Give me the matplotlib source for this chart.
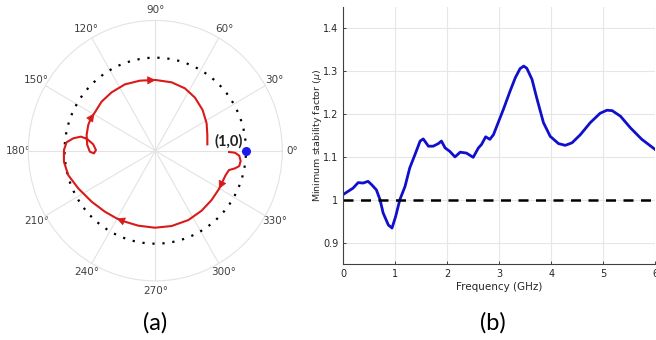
import numpy as np
import matplotlib.pyplot as plt

re_part = [0.813, 0.879, 0.926, 0.941, 0.926, 0.879, 0.813, 0.776, 0.732, 0.702,
           0.621, 0.511, 0.364, 0.180, -0.004, -0.188, -0.335, -0.426, -0.555, -0.702,
           -0.849, -0.960, -1.007, -1.007, -0.978, -0.904, -0.820, -0.750, -0.684, -0.654,
           -0.676, -0.721, -0.750, -0.757, -0.739, -0.710, -0.673, -0.592, -0.482, -0.335,
           -0.169, 0.004, 0.180, 0.327, 0.438, 0.522, 0.566, 0.574, 0.574]
im_part = [-0.014, -0.022, -0.054, -0.111, -0.165, -0.190, -0.208, -0.262, -0.351, -0.412,
           -0.530, -0.645, -0.746, -0.810, -0.828, -0.806, -0.763, -0.728, -0.656, -0.548,
           -0.405, -0.262, -0.118, 0.007, 0.090, 0.133, 0.151, 0.125, 0.068, 0.007,
           -0.029, -0.011, 0.061, 0.168, 0.276, 0.348, 0.401, 0.527, 0.627, 0.713,
           0.753, 0.760, 0.735, 0.670, 0.570, 0.437, 0.294, 0.168, 0.068]
arrow_idx = [9, 17, 36, 41]

# (b) minimum stability factor
freq = [0.0, 0.1, 0.19, 0.29, 0.385, 0.48, 0.55, 0.64, 0.71, 0.77, 0.87, 0.94, 1.01, 1.09,
        1.19, 1.28, 1.38, 1.48, 1.54, 1.64, 1.73, 1.83, 1.89, 1.96, 2.05, 2.15, 2.25, 2.37,
        2.5, 2.6, 2.66, 2.74, 2.82, 2.89, 2.98, 3.08, 3.21, 3.31, 3.4, 3.47, 3.53, 3.63,
        3.72, 3.85, 3.98, 4.14, 4.27, 4.4, 4.56, 4.75, 4.94, 5.07, 5.17, 5.33, 5.52, 5.74, 6.0]
mu = [1.012, 1.020, 1.027, 1.040, 1.039, 1.043, 1.035, 1.023, 1.000, 0.969, 0.941, 0.934,
      0.961, 1.000, 1.031, 1.074, 1.105, 1.137, 1.142, 1.125, 1.125, 1.131, 1.137, 1.121,
      1.113, 1.100, 1.111, 1.109, 1.099, 1.121, 1.129, 1.147, 1.141, 1.152, 1.180, 1.211,
      1.254, 1.285, 1.306, 1.312, 1.307, 1.281, 1.238, 1.180, 1.148, 1.131, 1.127, 1.133,
      1.152, 1.180, 1.202, 1.209, 1.208, 1.195, 1.168, 1.141, 1.117]

fig = plt.figure(figsize=(6.56, 3.4), dpi=100)

# ---- polar plot ----
ax1 = fig.add_axes([0.0431, 0.1738, 0.3872, 0.766], projection='polar')
ax1.set_aspect('auto')
x = np.array(re_part)
y = np.array(im_part)
r = np.hypot(x, y)
th = np.unwrap(np.arctan2(y, x))

ax1.set_ylim(0, 1.4)
ax1.set_yticks([])
ax1.set_thetagrids(np.arange(0, 360, 30), [f'{d}°' for d in range(0, 360, 30)],
                   fontsize=7.5, color='#404040')
ax1.tick_params(axis='x', pad=-3)
ax1.grid(True, color='#e3e3e3', lw=0.8)
ax1.spines['polar'].set_color('#e3e3e3')
ax1.spines['polar'].set_linewidth(0.8)

tt = np.linspace(0, 2 * np.pi, 400)
ax1.plot(tt, np.ones_like(tt), color='black', ls=(0, (1, 3.5)), lw=1.6)
ax1.plot(th, r, color='#d91a1a', lw=1.5)
for i in arrow_idx:
    ax1.annotate('', xy=(th[i], r[i]), xytext=(th[i - 1], r[i - 1]),
                 arrowprops=dict(arrowstyle='-|>', color='#d91a1a', lw=0.5, mutation_scale=13,
                                 shrinkA=0, shrinkB=0))
ax1.plot([0], [1], 'o', color='#1a1aee', ms=5.5)
ax1.text(np.arctan2(0.104, 0.81), np.hypot(0.81, 0.104), '(1,0)', fontsize=10.5,
         ha='center', va='center', color='#222222', family='Lato', fontweight='bold')

# ---- stability factor ----
ax2 = fig.add_axes([0.523, 0.2235, 0.476, 0.756])
ax2.plot(freq, mu, color='#1010cc', lw=2)
ax2.axhline(1, color='black', lw=1.8, ls=(0, (4, 3)))
ax2.set_xlim(0, 6)
ax2.set_ylim(0.85, 1.45)
ax2.set_xticks(range(0, 7))
ax2.set_yticks([0.9, 1.0, 1.1, 1.2, 1.3, 1.4])
ax2.set_yticklabels(['0.9', '1', '1.1', '1.2', '1.3', '1.4'])
ax2.tick_params(labelsize=7, colors='#262626', direction='in', length=2.5, width=0.6)
ax2.grid(True, color='#e6e6e6', lw=0.8)
ax2.set_axisbelow(True)
for s in ['top', 'right']:
    ax2.spines[s].set_visible(False)
for s in ['left', 'bottom']:
    ax2.spines[s].set_color('#404040')
    ax2.spines[s].set_linewidth(0.8)
ax2.set_xlabel('Frequency (GHz)', fontsize=7.5, color='#262626', labelpad=2)
ax2.set_ylabel(r'Minimum stability factor ($\mu$)', fontsize=6.8, color='#262626', labelpad=-1)

fig.text(0.237, 0.05, '(a)', fontsize=17, ha='center', va='center', family='Lato')
fig.text(0.752, 0.05, '(b)', fontsize=17, ha='center', va='center', family='Lato')

plt.savefig('out.png', dpi=100)
